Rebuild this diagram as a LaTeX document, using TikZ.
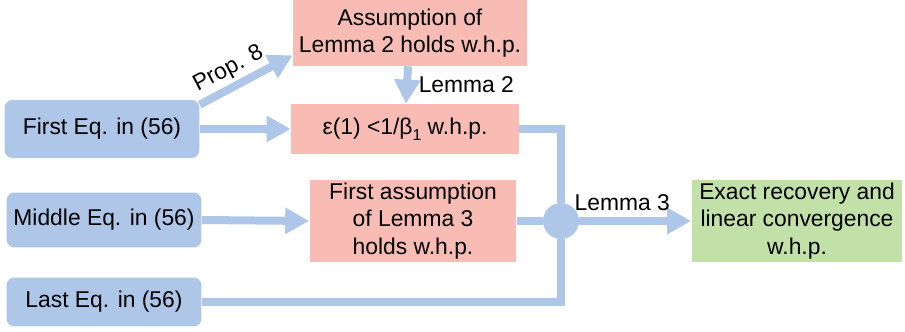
\documentclass[tikz,border=0pt]{standalone}
\usepackage{fontspec}
\setmainfont{Liberation Sans}
\usepackage{xcolor}
\usetikzlibrary{arrows.meta}
\definecolor{eqblue}{RGB}{174,198,232}
\definecolor{lemred}{RGB}{248,188,181}
\definecolor{resgreen}{RGB}{194,225,168}
\tikzstyle{source} = [rectangle, rounded corners=0.16cm, minimum width=3.9cm, minimum height=1.1cm, text centered, fill=eqblue, inner sep=0pt]
\tikzstyle{claim} = [rectangle, minimum height=1cm, text centered, fill=lemred, inner sep=0pt]
\tikzstyle{result} = [rectangle, minimum width=4.22cm, minimum height=1.64cm, text centered, fill=resgreen, inner sep=0pt]
\tikzstyle{link} = [eqblue, line width=0.16cm]
\tikzstyle{arrow} = [link, -{Triangle[width=0.5cm,length=0.48cm]}]
\tikzstyle{tag} = [text=black, inner sep=1pt]

\begin{document}
\begin{tikzpicture}[x=0.02cm, y=-0.02cm, align=center, font=\fontsize{13}{15.5}\selectfont]
    \useasboundingbox (0,0) rectangle (905,331);

    % Nodes
    \node (first) [source, minimum height=1.16cm] at (102,129) {First Eq. in (56)};
    \node (middle) [source] at (104,220) {Middle Eq. in (56)};
    \node (last) [source, minimum height=0.98cm] at (104,302) {Last Eq. in (56)};
    \node (lem2) [claim, minimum width=4.68cm, minimum height=1.32cm] at (410,33) {Assumption of\\Lemma 2 holds w.h.p.};
    \node (eps) [claim, minimum width=4.56cm] at (405,129) {ε(1) <1/β\raisebox{-0.5ex}{\fontsize{9}{9}\selectfont 1} w.h.p.};
    \node (lem3) [claim, minimum width=4.14cm, minimum height=1.64cm] at (413,221) {First assumption\\of Lemma 3\\holds w.h.p.};
    \node (exact) [result] at (797,221) {Exact recovery and\\linear convergence\\w.h.p.};
    \node (junc) [circle, fill=eqblue, minimum size=0.72cm, inner sep=0pt] at (561,221) {};

    % Arrows
    \draw [arrow] ([yshift=-0.1cm]first.north east) -- node[tag, above, sloped, pos=0.4, yshift=1pt] {Prop. 8} ([yshift=0.22cm]lem2.south west);
    \draw [arrow] (first.east) -- (eps.west);
    \draw [arrow] ([xshift=-0.04cm]lem2.south) -- node[tag, right, xshift=0.12cm] {Lemma 2} ([xshift=0.02cm]eps.north);
    \draw [arrow] (middle.east) -- (lem3.west);
    \draw [link] (eps.east) -| (junc);
    \draw [link] (lem3.east) -- (junc);
    \draw [link] (last.east) -| (junc);
    \draw [arrow] (junc) -- node[tag, above, yshift=0.1cm, xshift=-0.26cm] {Lemma 3} (exact.west);

\end{tikzpicture}
\end{document}
